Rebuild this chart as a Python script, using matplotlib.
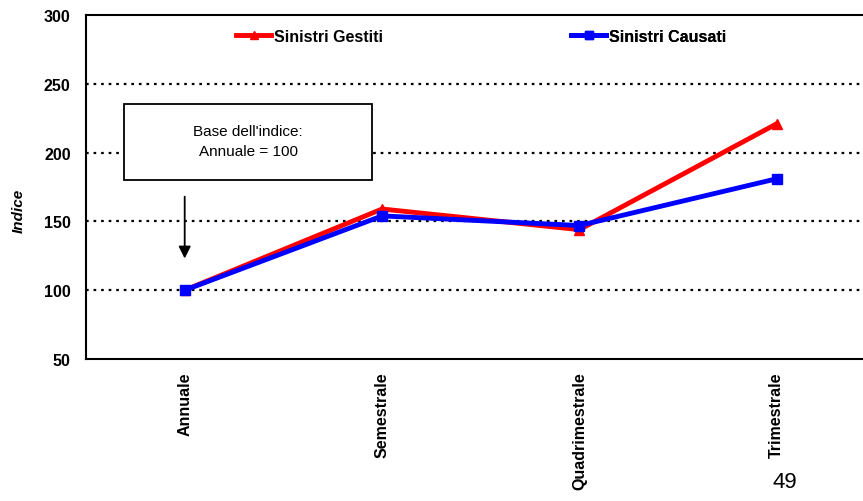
import matplotlib
matplotlib.use("Agg")
import matplotlib.pyplot as plt
from matplotlib.patches import Rectangle

categories = ["Annuale", "Semestrale", "Quadrimestrale", "Trimestrale"]
gestiti = [100, 159, 144, 221]
causati = [100, 154, 147, 181]
yticks = [50, 100, 150, 200, 250, 300]

plt.rcParams["font.family"] = ["Liberation Sans", "DejaVu Sans"]

W, H = 863, 502
fig = plt.figure(figsize=(W / 100, H / 100), dpi=100)
# axes extends past right edge of figure like the reference
left, right, top, bottom = 86, 875.5, 16, 360
ax = fig.add_axes([left / W, 1 - bottom / H, (right - left) / W, (bottom - top) / H])

x = range(len(categories))
l1, = ax.plot(x, gestiti, color="#ff0000", lw=3.5, marker="^", ms=7.5, label="Sinistri Gestiti", zorder=3)
l2, = ax.plot(x, causati, color="#0000ff", lw=3.5, marker="s", ms=7.5, label="Sinistri Causati", zorder=4)

ax.set_xlim(-0.5, len(categories) - 0.5)
ax.set_ylim(50, 300)
ax.set_yticks(yticks)
ax.set_yticklabels([str(v) for v in yticks], fontsize=11.5, fontweight="bold")
ax.set_xticks(list(x))
ax.set_xticklabels(categories, rotation=90, fontsize=11.5, fontweight="bold", va="top")
ax.tick_params(axis="y", length=0, pad=11)
ax.tick_params(axis="x", length=0, pad=9)
for v in [100, 150, 200, 250]:
    ax.axhline(v, color="black", lw=1.6, ls=(0, (1.2, 2.2)), zorder=1)

ax.spines["right"].set_visible(False)
for s in ["left", "top", "bottom"]:
    ax.spines[s].set_linewidth(1.5)

fig.text(19 / W, 1 - 211 / H, "Indice", rotation=90, ha="center", va="center",
         fontsize=11, fontweight="bold", style="italic")

# two separate legend entries, as in the reference
for line, xpos in [(l1, 236), (l2, 571)]:
    leg = ax.legend(handles=[line], loc="center left", bbox_to_anchor=(xpos / W, 1 - 37 / H),
                    bbox_transform=fig.transFigure, frameon=False, borderpad=0, borderaxespad=0,
                    handlelength=2.2, handletextpad=0.15, markerscale=0.8,
                    prop={"weight": "bold", "size": 11.5})
    ax.add_artist(leg)

fig.patches.append(Rectangle((124 / W, 1 - 181 / H), 248 / W, 76 / H, transform=fig.transFigure,
                             facecolor="white", edgecolor="black", lw=1.3, zorder=5))
fig.text(248 / W, 1 - 142 / H, "Base dell'indice:\nAnnuale = 100", ha="center", va="center",
         fontsize=11, linespacing=1.5, zorder=6)
ax.annotate("", xy=(0, 121), xytext=(0, 170),
            arrowprops=dict(arrowstyle="-|>", color="black", lw=1.3, mutation_scale=18))

fig.text(785 / W, 1 - 483 / H, "49", ha="center", va="center", fontsize=16)

fig.savefig("out.png", dpi=100)
